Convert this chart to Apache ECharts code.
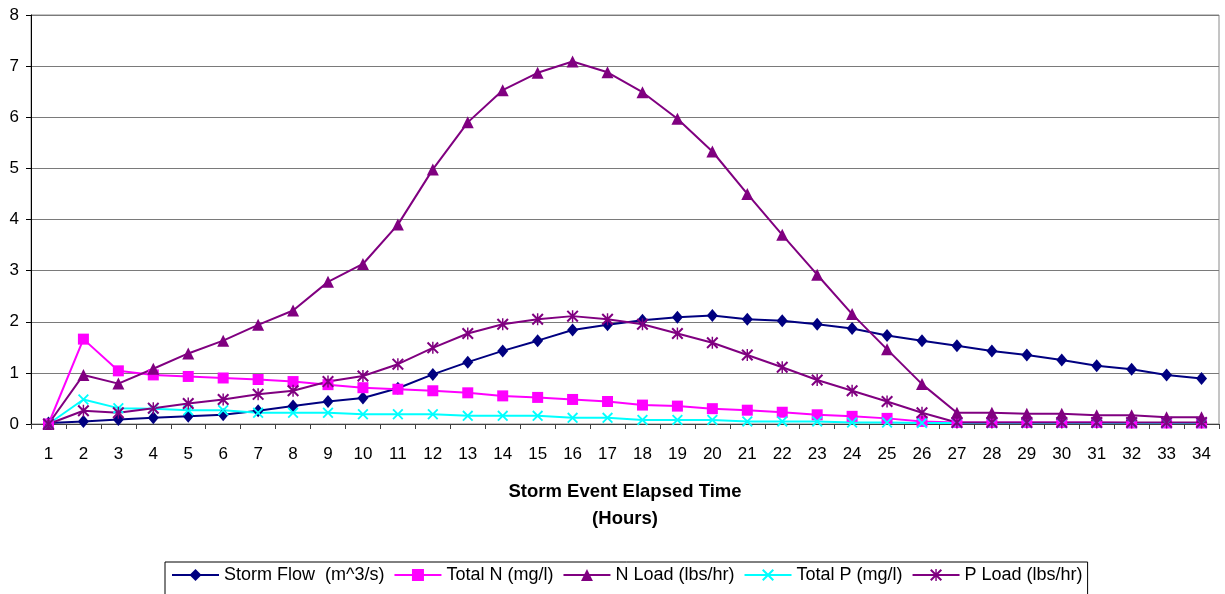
<!DOCTYPE html>
<html>
<head>
<meta charset="utf-8">
<script src="https://cdn.jsdelivr.net/npm/echarts@6/dist/echarts.min.js"></script>
<style>
  html, body { margin: 0; padding: 0; background: #ffffff; }
  #chart { width: 1225px; height: 594px; }
</style>
</head>
<body>
<div id="chart"></div>
<script>
const hours = ['1','2','3','4','5','6','7','8','9','10','11','12','13','14','15','16','17','18','19','20','21','22','23','24','25','26','27','28','29','30','31','32','33','34'];
const stormFlow = [0.02,0.05,0.09,0.12,0.15,0.18,0.26,0.35,0.44,0.51,0.70,0.97,1.21,1.43,1.63,1.84,1.94,2.03,2.09,2.12,2.05,2.02,1.95,1.87,1.73,1.63,1.53,1.43,1.35,1.25,1.14,1.07,0.96,0.89];
const totalN = [0.0,1.66,1.04,0.96,0.93,0.90,0.87,0.83,0.77,0.71,0.68,0.65,0.61,0.55,0.52,0.48,0.44,0.37,0.35,0.30,0.27,0.23,0.18,0.15,0.11,0.05,0.03,0.03,0.03,0.03,0.03,0.02,0.02,0.02];
const nLoad = [0.0,0.96,0.79,1.08,1.38,1.63,1.94,2.22,2.78,3.13,3.90,4.98,5.90,6.53,6.87,7.09,6.88,6.49,5.97,5.33,4.50,3.70,2.92,2.15,1.46,0.78,0.22,0.22,0.20,0.20,0.17,0.17,0.13,0.13];
const totalP = [0.0,0.48,0.31,0.30,0.27,0.27,0.22,0.22,0.22,0.19,0.19,0.19,0.16,0.16,0.16,0.12,0.12,0.08,0.08,0.08,0.05,0.05,0.05,0.03,0.03,0.02,0.02,0.02,0.02,0.02,0.02,0.02,0.02,0.02];
const pLoad = [0.0,0.26,0.22,0.31,0.40,0.48,0.58,0.65,0.83,0.94,1.17,1.49,1.77,1.95,2.05,2.11,2.05,1.95,1.77,1.59,1.35,1.11,0.86,0.65,0.44,0.22,0.03,0.03,0.03,0.03,0.03,0.03,0.03,0.03];
const yTicks = [0,1,2,3,4,5,6,7,8];

const FONT = "'Liberation Sans', Arial, sans-serif";
const xPath = 'path://M0,1.2L1.2,0L10,8.8L8.8,10Z M8.8,0L10,1.2L1.2,10L0,8.8Z';
const starPath = 'path://M0,1.2L1.2,0L10,8.8L8.8,10Z M8.8,0L10,1.2L1.2,10L0,8.8Z M4.4,0L5.6,0L5.6,10L4.4,10Z';

function mkSeries(name, data, color, symbol, size) {
  return {
    name: name,
    type: 'line',
    data: data,
    symbol: symbol,
    symbolSize: size,
    showAllSymbol: true,
    lineStyle: { color: color, width: 2 },
    itemStyle: { color: color, borderWidth: 0 },
    emphasis: { disabled: true },
    animation: false
  };
}

const chart = echarts.init(document.getElementById('chart'), null, { renderer: 'canvas' });
chart.setOption({
  backgroundColor: '#ffffff',
  animation: false,
  textStyle: { fontFamily: FONT },
  grid: {
    left: 31, right: 6, top: 15, bottom: 170,
    show: true, borderColor: '#8a8a8a', borderWidth: 1, backgroundColor: 'transparent'
  },
  xAxis: {
    type: 'category',
    data: hours,
    boundaryGap: true,
    name: 'Storm Event Elapsed Time\n(Hours)',
    nameLocation: 'middle',
    nameGap: 54,
    nameTextStyle: { fontFamily: FONT, fontWeight: 'bold', fontSize: 18.5, color: '#000', lineHeight: 27 },
    axisLine: { show: true, lineStyle: { color: '#404040', width: 1 } },
    axisTick: { show: true, alignWithLabel: false, length: 5, lineStyle: { color: '#404040' } },
    axisLabel: { fontFamily: FONT, fontSize: 17, color: '#000', margin: 22, interval: 0 },
    splitLine: { show: false }
  },
  yAxis: {
    type: 'value',
    min: 0, max: 8, interval: 1,
    axisLine: { show: true, lineStyle: { color: '#000', width: 1 } },
    axisTick: { show: true, length: 5, lineStyle: { color: '#000' } },
    axisLabel: {
      fontFamily: FONT, fontSize: 17, color: '#000', margin: 12,
      formatter: function (v) { return yTicks.indexOf(v) >= 0 ? String(v) : ''; }
    },
    splitLine: { show: true, lineStyle: { color: '#7a7a7a', width: 1 } }
  },
  legend: {
    left: 165, top: 562,
    orient: 'horizontal',
    itemWidth: 47, itemHeight: 15, itemGap: 9,
    padding: [4, 5, 14, 6],
    borderColor: '#000', borderWidth: 1,
    textStyle: { fontFamily: FONT, fontSize: 18, color: '#000' },
    data: ['Storm Flow  (m^3/s)', 'Total N (mg/l)', 'N Load (lbs/hr)', 'Total P (mg/l)', 'P Load (lbs/hr)']
  },
  series: [
    mkSeries('Storm Flow  (m^3/s)', stormFlow, '#000080', 'diamond', [11, 13]),
    mkSeries('Total N (mg/l)', totalN, '#FF00FF', 'rect', 11),
    mkSeries('N Load (lbs/hr)', nLoad, '#800080', 'triangle', 12),
    mkSeries('Total P (mg/l)', totalP, '#00FFFF', xPath, 11),
    mkSeries('P Load (lbs/hr)', pLoad, '#800080', starPath, 12)
  ]
});
</script>
</body>
</html>
